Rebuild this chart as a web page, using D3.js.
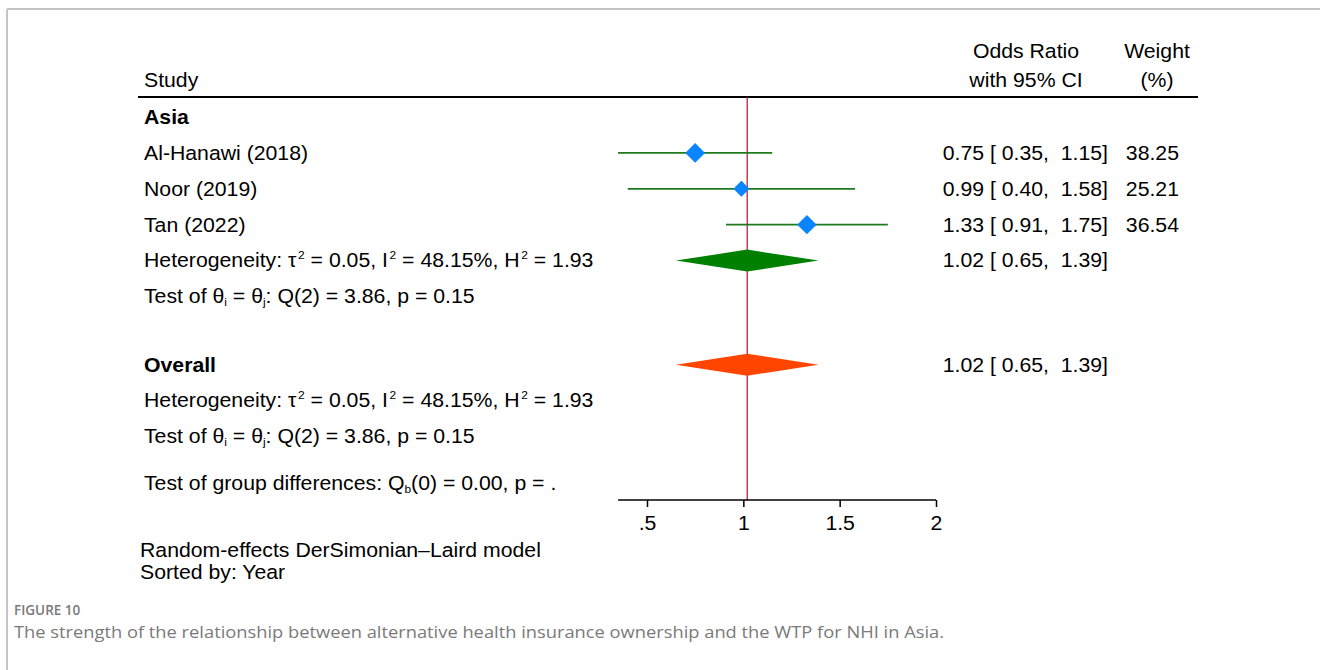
<!DOCTYPE html>
<html>
<head>
<meta charset="utf-8">
<script src="https://cdn.jsdelivr.net/npm/d3@7"></script>
<style>
  body { margin: 0; background: #fff; }
  svg text { font-family: "Liberation Sans", Arial, sans-serif; white-space: pre; }
</style>
</head>
<body>
<div id="chart"></div>
<script>
// study data
var studies = ["Al-Hanawi (2018)", "Noor (2019)", "Tan (2022)"];
var oddsRatio = [0.75, 0.99, 1.33];
var ciLower = [0.35, 0.40, 0.91];
var ciUpper = [1.15, 1.58, 1.75];
var weights = [38.25, 25.21, 36.54];

// pooled estimates: [estimate, lower, upper]
var subgroupEst = [1.02, 0.65, 1.39];
var overallEst = [1.02, 0.65, 1.39];

var tickValues = [0.5, 1, 1.5, 2];
var tickLabels = [".5", "1", "1.5", "2"];

var width = 1320,
    height = 670;

var svg = d3.select("#chart").append("svg")
    .attr("width", width)
    .attr("height", height);

// frame of the figure box
svg.append("line").attr("x1", 7).attr("x2", width).attr("y1", 9).attr("y2", 9)
    .attr("stroke", "#c4c4c4").attr("stroke-width", 2);
svg.append("line").attr("x1", 7).attr("x2", 7).attr("y1", 9).attr("y2", height)
    .attr("stroke", "#c4c4c4").attr("stroke-width", 2);

// x scale of the plot
var x = d3.scaleLinear().domain([0.5, 2]).range([647, 936]);

// row positions (in row units)
var y = d3.scaleLinear().domain([0, 1]).range([117, 152.9]);
var rowStudy = [1, 2, 3];
var rowSubgroup = 4, rowSubTest = 5, rowOverall = 6.9, rowOvHet = 7.9, rowOvTest = 8.9, rowGroup = 10.2;

var fs = 19.5;
var sx = 1.09; // stata text is drawn a little wider
var textX = 144;
var ciX = 1108, wX = 1179;

// text helper: stretched horizontally like the original graph
function txt(px, py, anchor) {
    return svg.append("g")
        .attr("transform", "translate(" + px + "," + py + ") scale(" + sx + ",1)")
        .append("text")
        .attr("dy", "0.35em")
        .attr("text-anchor", anchor || "start")
        .attr("font-size", fs);
}

// header
txt(textX, 80).text("Study");
txt(1026, 51, "middle").text("Odds Ratio");
txt(1026, 80, "middle").text("with 95% CI");
txt(1157, 51, "middle").text("Weight");
txt(1157, 80, "middle").text("(%)");
svg.append("line").attr("x1", 138).attr("x2", 1198).attr("y1", 97).attr("y2", 97)
    .attr("stroke", "#000").attr("stroke-width", 2);

// reference line at overall estimate
svg.append("line")
    .attr("x1", x(overallEst[0])).attr("x2", x(overallEst[0]))
    .attr("y1", 97).attr("y2", 500)
    .attr("stroke", "#b0112b").attr("stroke-width", 1.2);

// group label
txt(textX, y(0)).attr("font-weight", "bold").text("Asia");

var f2 = d3.format(".2f");
function ciText(e, l, u) {
    return f2(e) + " [ " + f2(l) + ",  " + f2(u) + "]";
}

// study rows
studies.forEach(function (s, i) {
    var cy = y(rowStudy[i]);
    txt(textX, cy).text(s);
    svg.append("line")
        .attr("x1", x(ciLower[i])).attr("x2", x(ciUpper[i]))
        .attr("y1", cy).attr("y2", cy)
        .attr("stroke", "#1f7a1f").attr("stroke-width", 1.8);
    var r = 1.6 * Math.sqrt(weights[i]);
    var cx = x(oddsRatio[i]);
    svg.append("path")
        .attr("d", "M" + (cx - r) + "," + cy + "L" + cx + "," + (cy - r) + "L" + (cx + r) + "," + cy + "L" + cx + "," + (cy + r) + "Z")
        .attr("fill", "#0a84ff");
    txt(ciX, cy, "end").text(ciText(oddsRatio[i], ciLower[i], ciUpper[i]));
    txt(wX, cy, "end").text(f2(weights[i]));
});

function pooled(est, cy, color) {
    svg.append("path")
        .attr("d", "M" + x(est[1]) + "," + cy + "L" + x(est[0]) + "," + (cy - 11) + "L" + x(est[2]) + "," + cy + "L" + x(est[0]) + "," + (cy + 11) + "Z")
        .attr("fill", color);
    txt(ciX, cy, "end").text(ciText(est[0], est[1], est[2]));
}

var small = 11;
function sup(t, s) {
    t.append("tspan").attr("dx", 1.5).attr("dy", -8).attr("font-size", small).text(s);
}
function back(t, s, d) {
    t.append("tspan").attr("dy", d).text(s);
}

function hetText(cy) {
    var t = txt(textX, cy);
    t.append("tspan").text("Heterogeneity: \u03c4");
    sup(t, "2");
    back(t, " = 0.05, I", 8);
    sup(t, "2");
    back(t, " = 48.15%, H", 8);
    sup(t, "2");
    back(t, " = 1.93", 8);
}

function sub(t, s) {
    t.append("tspan").attr("dy", 3).attr("font-size", small).text(s);
}

function testText(cy) {
    var t = txt(textX, cy);
    t.append("tspan").text("Test of \u03b8");
    sub(t, "i");
    back(t, " = \u03b8", -3);
    sub(t, "j");
    back(t, ": Q(2) = 3.86, p = 0.15", -3);
}

pooled(subgroupEst, y(rowSubgroup), "#008000");
hetText(y(rowSubgroup));
testText(y(rowSubTest));

txt(textX, y(rowOverall)).attr("font-weight", "bold").text("Overall");
pooled(overallEst, y(rowOverall), "#ff4500");
hetText(y(rowOvHet));
testText(y(rowOvTest));

var tg = txt(textX, y(rowGroup));
tg.append("tspan").text("Test of group differences: Q");
sub(tg, "b");
back(tg, "(0) = 0.00, p = .", -3);

// x axis
var axis = svg.append("g").attr("transform", "translate(0,500)")
    .call(d3.axisBottom(x).tickValues(tickValues).tickSize(7).tickPadding(9)
        .tickFormat(function (d, i) { return tickLabels[i]; }));
axis.select(".domain").remove();
axis.append("line").attr("x1", x(d3.min(ciLower))).attr("x2", x(2))
    .attr("stroke", "#000").attr("stroke-width", 1.5);
axis.selectAll(".tick line").attr("stroke", "#000").attr("stroke-width", 1.5);
axis.selectAll(".tick text").attr("font-size", fs).attr("font-family", "Liberation Sans, Arial, sans-serif")
    .attr("fill", "#000").attr("transform", "scale(" + sx + ",1)");

// notes
txt(140, 550).text("Random-effects DerSimonian\u2013Laird model");
txt(140, 572).text("Sorted by: Year");

// caption
svg.append("text").attr("x", 14).attr("y", 610).attr("dy", "0.35em")
    .style("font-family", "'Open Sans', sans-serif").attr("font-size", 13.5).attr("font-weight", 600)
    .attr("fill", "#7a7a7a").text("FIGURE 10");
svg.append("text").attr("x", 14).attr("y", 632).attr("dy", "0.35em")
    .style("font-family", "'Open Sans', sans-serif").attr("font-size", 17).attr("fill", "#7a7a7a")
    .attr("textLength", 930).attr("lengthAdjust", "spacingAndGlyphs")
    .text("The strength of the relationship between alternative health insurance ownership and the WTP for NHI in Asia.");
</script>
</body>
</html>
